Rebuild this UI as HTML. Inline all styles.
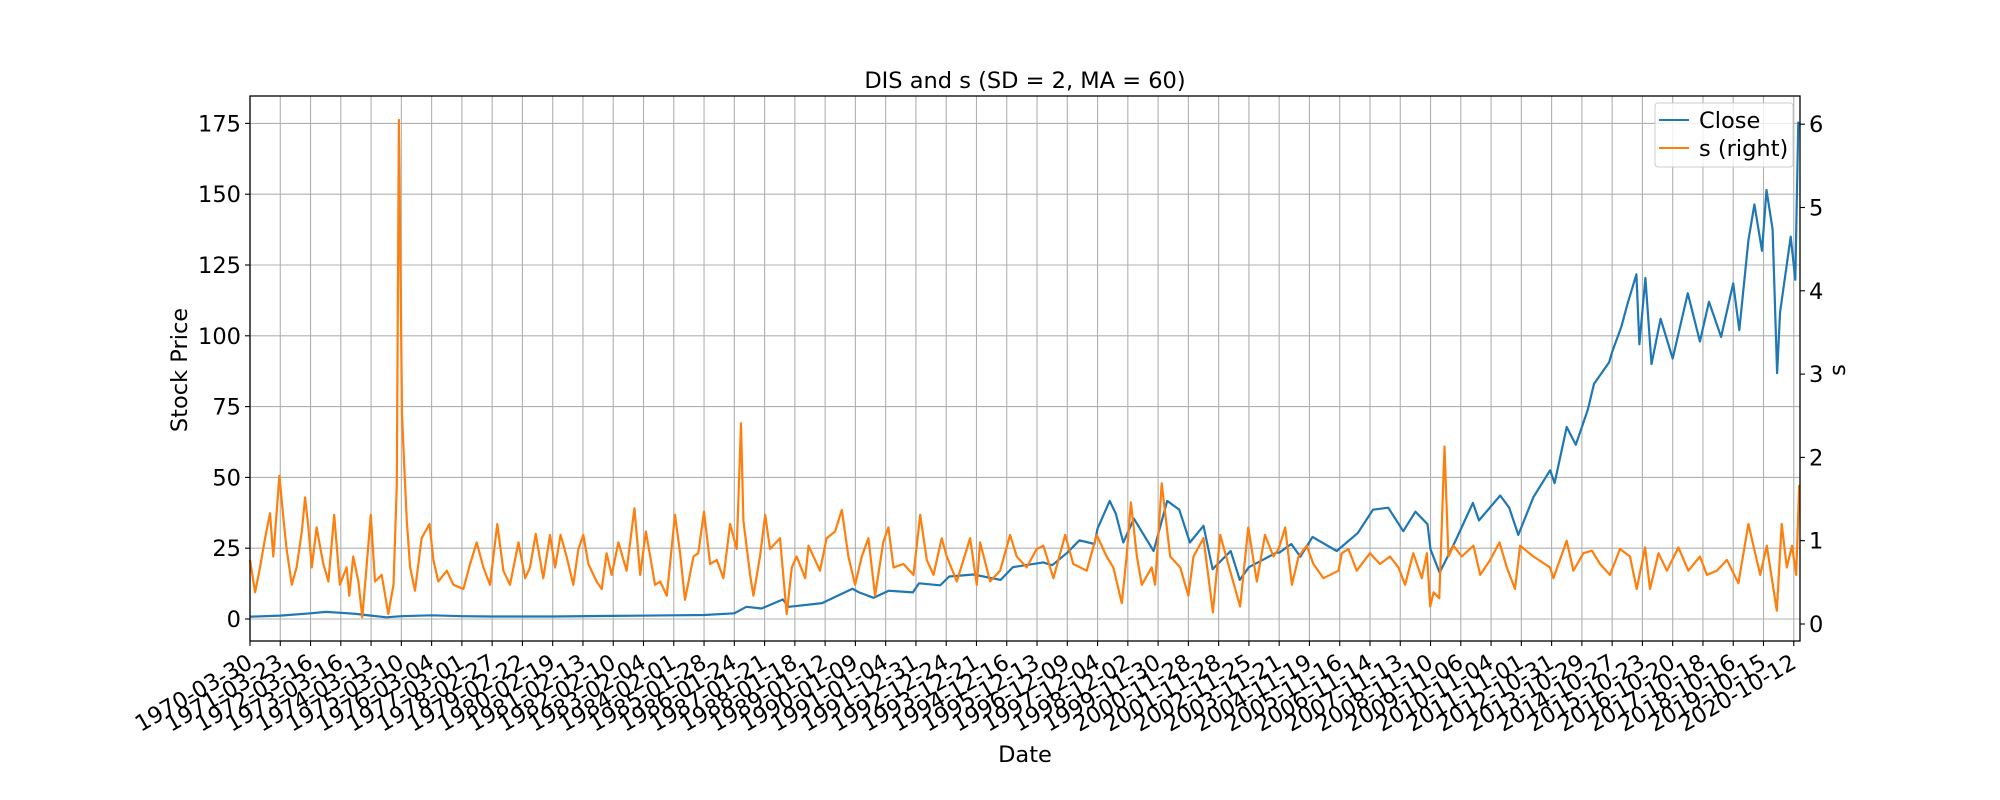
<!DOCTYPE html>
<html><head><meta charset="utf-8"><style>
body{margin:0;background:#fff}
svg{display:block;font-family:"DejaVu Sans","Liberation Sans",sans-serif}
</style></head><body>
<svg id="chart" width="2000" height="800" viewBox="0 0 2000 800">
<text x="1025" y="88" font-size="22.5" text-anchor="middle">DIS and s (SD = 2, MA = 60)</text>
<text transform="translate(187,370) rotate(-90)" font-size="22.5" text-anchor="middle">Stock Price</text>
<text transform="translate(1845,370) rotate(-90)" font-size="22.5" text-anchor="middle">s</text>
<text x="1025" y="762" font-size="22.5" text-anchor="middle">Date</text>
<g id="grid"></g>
<g id="series"></g>
<rect x="250" y="96" width="1550" height="545" fill="none" stroke="#000" stroke-width="1.3"/>
<g id="axes"></g>
<g>
<rect x="1655" y="103" width="138" height="64" rx="3" fill="#fff" fill-opacity="0.8" stroke="#ccc"/>
<line x1="1659" y1="120" x2="1689" y2="120" stroke="#1f77b4" stroke-width="2"/>
<text x="1699" y="128" font-size="22.5">Close</text>
<line x1="1659" y1="148" x2="1689" y2="148" stroke="#ff7f0e" stroke-width="2"/>
<text x="1699" y="156" font-size="22.5">s (right)</text>
</g>
</svg>
<script>
const xTickLabels=["1970-03-30","1971-03-23","1972-03-16","1973-03-16","1974-03-13","1975-03-10","1976-03-04","1977-03-01","1978-02-27","1979-02-22","1980-02-19","1981-02-13","1982-02-10","1983-02-04","1984-02-01","1985-01-28","1986-01-24","1987-01-21","1988-01-18","1989-01-12","1990-01-09","1991-01-04","1991-12-31","1992-12-24","1993-12-21","1994-12-16","1995-12-13","1996-12-09","1997-12-04","1998-12-02","1999-11-30","2000-11-28","2001-11-28","2002-11-25","2003-11-21","2004-11-19","2005-11-16","2006-11-14","2007-11-13","2008-11-10","2009-11-06","2010-11-04","2011-11-01","2012-10-31","2013-10-29","2014-10-27","2015-10-23","2016-10-20","2017-10-18","2018-10-16","2019-10-15","2020-10-12"];
const yTicks=[0,25,50,75,100,125,150,175];
const y2Ticks=[0,1,2,3,4,5,6];
const closeX=[0,1,2,2.5,3,3.5,4,4.5,5,6,7,8,10,12,14,15,16,16.4,16.9,17.6,17.8,18.9,19.9,20.1,20.6,21.1,21.9,22.1,22.8,23.1,23.9,24.8,25.2,26.2,26.5,27,27.4,27.9,28,28.4,28.6,28.85,29.2,29.85,30.3,30.7,31.05,31.5,31.8,32.4,32.7,33.0,33.9,34.0,34.4,34.7,35.1,35.9,36.6,37.1,37.6,38.1,38.5,38.9,39.0,39.3,39.8,40.4,40.6,41.3,41.6,41.9,42.4,42.95,43.1,43.5,43.8,44.2,44.4,44.9,45.0,45.3,45.5,45.8,45.9,46.1,46.3,46.6,47.0,47.5,47.9,48.2,48.6,49.0,49.2,49.5,49.7,49.95,50.1,50.3,50.45,50.55,50.9,51.05,51.15];
const closeY=[0.8,1.2,2.0,2.5,2.2,1.8,1.2,0.6,1.0,1.3,1.0,0.9,0.9,1.1,1.3,1.4,2.0,4.3,3.7,6.9,4.3,5.6,10.7,9.5,7.5,10,9.4,12.6,11.9,15,15.7,13.8,18.3,20,19,23.4,27.8,26.5,32,41.7,37.3,27,35.4,24,41.7,38.6,27,32.9,17.6,24,13.8,18.3,23.4,23.4,26.5,22,29,24,30.4,38.6,39.3,31,37.9,33.5,24.6,16.4,27,41,34.8,43.6,39.3,29.7,43,52.5,48,67.8,61.5,74,83,90.6,94.4,103,111,121.7,97,120.4,90,106,92,115,98,112,99.6,118.5,102,133.7,146.4,130,151.5,137.6,86.8,108.4,135,119.8,175.6];
const sX=[0,.17,.33,.5,.66,.77,.97,1.1,1.21,1.38,1.54,1.71,1.82,1.93,2.04,2.2,2.42,2.59,2.78,2.97,3.19,3.28,3.41,3.58,3.71,3.85,3.99,4.13,4.35,4.57,4.74,4.85,4.92,4.98,5.02,5.09,5.18,5.29,5.45,5.67,5.93,6.06,6.22,6.5,6.72,7.05,7.27,7.49,7.71,7.93,8.17,8.37,8.59,8.87,9.09,9.25,9.44,9.69,9.91,10.08,10.26,10.46,10.68,10.85,11.01,11.18,11.45,11.62,11.78,11.95,12.17,12.44,12.7,12.89,13.08,13.22,13.38,13.55,13.77,14.04,14.21,14.37,14.65,14.81,15.0,15.2,15.42,15.64,15.86,16.08,16.22,16.3,16.52,16.63,16.85,17.02,17.18,17.51,17.73,17.9,18.06,18.34,18.45,18.83,19.05,19.33,19.55,19.77,19.99,20.21,20.43,20.65,20.92,21.09,21.26,21.59,21.92,22.14,22.36,22.58,22.85,23.02,23.35,23.79,24.01,24.12,24.45,24.78,25.11,25.33,25.66,25.99,26.21,26.54,26.93,27.2,27.64,27.97,28.3,28.52,28.8,28.96,29.1,29.3,29.46,29.79,29.9,30.12,30.4,30.73,31.0,31.17,31.5,31.81,32.05,32.38,32.71,32.98,33.26,33.53,33.81,33.98,34.2,34.42,34.64,34.91,35.13,35.46,35.96,36.07,36.29,36.56,37.0,37.33,37.66,37.94,38.16,38.43,38.71,38.88,38.99,39.1,39.29,39.46,39.59,39.76,40.03,40.42,40.64,40.97,41.28,41.52,41.79,41.96,42.4,42.95,43.06,43.5,43.72,44.05,44.33,44.6,44.93,45.26,45.59,45.81,46.09,46.25,46.53,46.81,47.19,47.52,47.9,48.13,48.46,48.79,49.17,49.5,49.89,50.11,50.44,50.6,50.77,50.94,51.08,51.18];
const sY=[.77,.38,.68,1.03,1.33,.81,1.78,1.28,.90,.47,.68,1.11,1.52,1.16,.68,1.16,.72,.51,1.31,.47,.68,.34,.81,.51,.08,.68,1.31,.51,.59,.12,.47,1.67,6.05,4.0,2.53,1.93,1.24,.68,.40,1.03,1.20,.77,.51,.64,.47,.42,.72,.98,.68,.47,1.20,.64,.47,.98,.55,.68,1.08,.55,1.07,.68,1.07,.81,.47,.90,1.07,.72,.51,.42,.85,.59,.98,.64,1.39,.59,1.11,.81,.47,.51,.34,1.31,.85,.29,.81,.85,1.35,.72,.77,.55,1.20,.90,2.41,1.24,.59,.34,.81,1.31,.90,1.03,.12,.68,.81,.55,.94,.64,1.03,1.11,1.37,.81,.47,.81,1.03,.34,.98,1.16,.68,.72,.59,1.31,.77,.59,1.03,.81,.51,1.03,.47,.98,.51,.64,1.07,.81,.68,.90,.94,.55,1.07,.72,.64,1.07,.81,.68,.25,.81,1.46,.81,.47,.68,.47,1.69,.81,.68,.34,.81,1.03,.14,1.07,.64,.21,1.16,.51,1.07,.81,.90,1.16,.47,.81,.94,.72,.55,.64,.85,.90,.64,.85,.72,.81,.68,.47,.85,.55,.85,.21,.38,.31,2.13,.81,.94,.81,.94,.59,.77,.98,.68,.42,.94,.81,.68,.55,1.0,.64,.85,.88,.72,.59,.90,.81,.42,.92,.42,.85,.64,.92,.64,.81,.59,.64,.77,.49,1.20,.59,.94,.16,1.20,.68,.94,.59,1.67];

const NS="http://www.w3.org/2000/svg";
const L=250,R=1800,T=96,B=641,TICK0=250,TICKSTEP=30.27;
function xs(v){return TICK0+v*TICKSTEP;}
function yl(v){return 619-v*2.832;}
function yr(v){return 624-v*83.3;}
function mk(tag,attrs,parent){const e=document.createElementNS(NS,tag);for(const k in attrs)e.setAttribute(k,attrs[k]);parent.appendChild(e);return e;}
const grid=document.getElementById('grid'),axes=document.getElementById('axes'),series=document.getElementById('series');
xTickLabels.forEach((lab,i)=>{
  const x=xs(i);
  const g=mk('line',{x1:x,y1:T,x2:x,y2:B,stroke:'#b0b0b0','stroke-width':1.1},grid);
  
  
  const t=mk('line',{x1:x,y1:B,x2:x,y2:B+5,stroke:'#000','stroke-width':1.1},axes);
  
  
  const tx=mk('text',{transform:`translate(${x-4},${B+12}) rotate(-30)`,'font-size':22.5,'text-anchor':'end','dominant-baseline':'hanging'},axes);
  tx.textContent=lab;
  
  
});
yTicks.forEach(v=>{
  const y=yl(v);
  const g=mk('line',{x1:L,y1:y,x2:R,y2:y,stroke:'#b0b0b0','stroke-width':1.1},grid);
  
  
  const t=mk('line',{x1:L-5,y1:y,x2:L,y2:y,stroke:'#000','stroke-width':1.1},axes);
  
  
  const tx=mk('text',{x:L-9,y:y+8,'font-size':22.5,'text-anchor':'end'},axes);
  tx.textContent=v;
  
  
});
y2Ticks.forEach(v=>{
  const y=yr(v);
  const t=mk('line',{x1:R,y1:y,x2:R+5,y2:y,stroke:'#000','stroke-width':1.1},axes);
  
  
  const tx=mk('text',{x:R+9,y:y+8,'font-size':22.5},axes);
  tx.textContent=v;
  
  
});
const cp=mk('polyline',{points:closeX.map((x,i)=>xs(x).toFixed(1)+','+yl(closeY[i]).toFixed(1)).join(' '),fill:'none',stroke:'#1f77b4','stroke-width':2.2,'stroke-linejoin':'round'},series);


const sp=mk('polyline',{points:sX.map((x,i)=>xs(x).toFixed(1)+','+yr(sY[i]).toFixed(1)).join(' '),fill:'none',stroke:'#ff7f0e','stroke-width':2.2,'stroke-linejoin':'round'},series);


</script>
</body></html>
